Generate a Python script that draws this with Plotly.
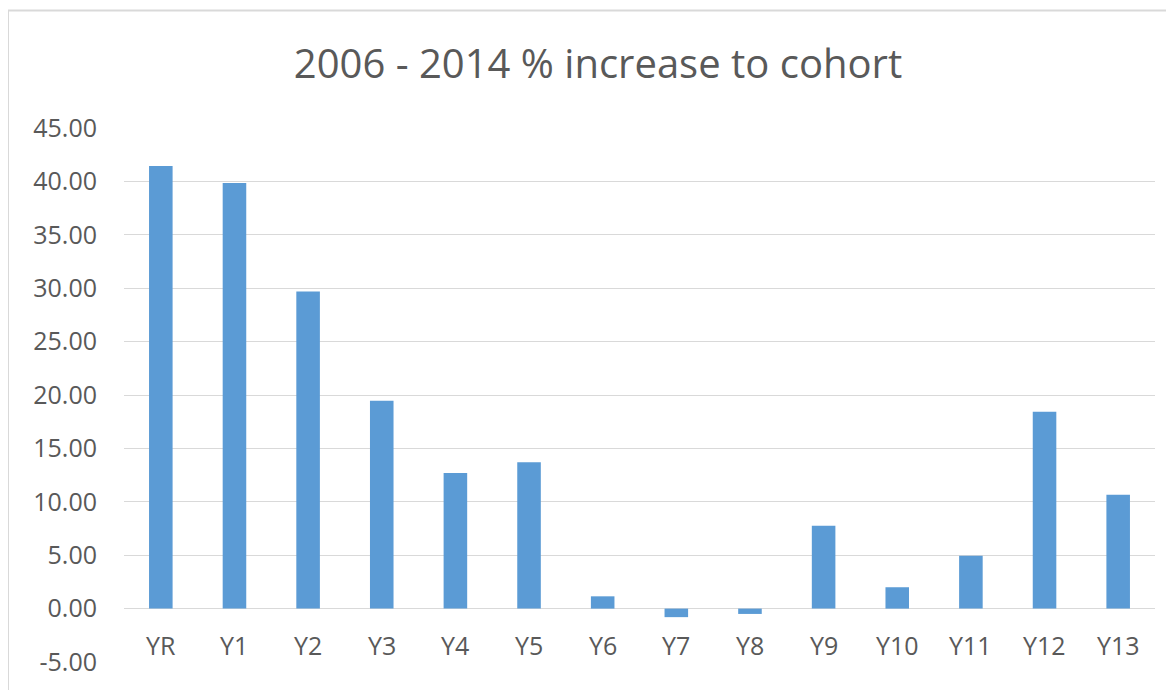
import plotly.graph_objects as go

categories = ["YR", "Y1", "Y2", "Y3", "Y4", "Y5", "Y6", "Y7", "Y8", "Y9", "Y10", "Y11", "Y12", "Y13"]
values = [41.45, 39.85, 29.70, 19.45, 12.70, 13.70, 1.15, -0.80, -0.50, 7.75, 2.00, 4.95, 18.43, 10.65]
title_text = "2006 - 2014 % increase to cohort"
y_range = [-5, 45]
y_tick_values = [-5, 0, 5, 10, 15, 20, 25, 30, 35, 40, 45]
y_tick_labels = ["-5.00", "0.00", "5.00", "10.00", "15.00", "20.00", "25.00",
                 "30.00", "35.00", "40.00", "45.00"]

# page body has an 8px margin; work in reference pixel coordinates then shift
OFF = 8
W, H = 1174 - OFF, 690 - OFF
L, R, T = 124 - OFF, 19, 128 - OFF
B = H - (661.6 - OFF)
pw, ph = W - L - R, H - T - B

FONT = "Open Sans"
TXT = "#595959"
GRID = "#D9D9D9"
BAR = "#5B9BD5"

fig = go.Figure()
fig.add_trace(go.Bar(x=categories, y=values, marker=dict(color=BAR, line=dict(width=0)),
                     hoverinfo="x+y"))

for c in categories:
    fig.add_annotation(x=c, xref="x", y=-3.45, yref="y", text=c, showarrow=False,
                       yanchor="middle", font=dict(family=FONT, size=25, color=TXT))

def px_x(X):
    return (X - OFF - L) / pw

def px_y(Y):
    return (H - B - (Y - OFF)) / ph

fig.add_shape(type="rect", xref="paper", yref="paper",
              x0=px_x(8), x1=px_x(1200), y0=px_y(720), y1=px_y(10.5),
              line=dict(color=GRID, width=2), fillcolor="rgba(0,0,0,0)", layer="below")

fig.update_layout(
    width=W, height=H,
    margin=dict(l=L, r=R, t=T, b=B, autoexpand=False),
    paper_bgcolor="white", plot_bgcolor="white",
    showlegend=False,
    bargap=0.68,
    title=dict(text=title_text, x=(598 - OFF) / W, xanchor="center",
               y=1 - (64 - OFF) / H, yanchor="middle",
               font=dict(family=FONT, size=40, color=TXT)),
    xaxis=dict(showticklabels=False, showgrid=False, showline=False, zeroline=False,
               ticks="", range=[-0.5, len(categories) - 0.5]),
    yaxis=dict(range=y_range, tickmode="array", tickvals=y_tick_values, ticktext=y_tick_labels,
               showgrid=True, gridcolor=GRID, gridwidth=1.3,
               zeroline=True, zerolinecolor=GRID, zerolinewidth=1.3,
               showline=False, ticks="", ticklabelstandoff=26,
               tickfont=dict(family=FONT, size=25, color=TXT)),
)

fig.write_html("out.html")
